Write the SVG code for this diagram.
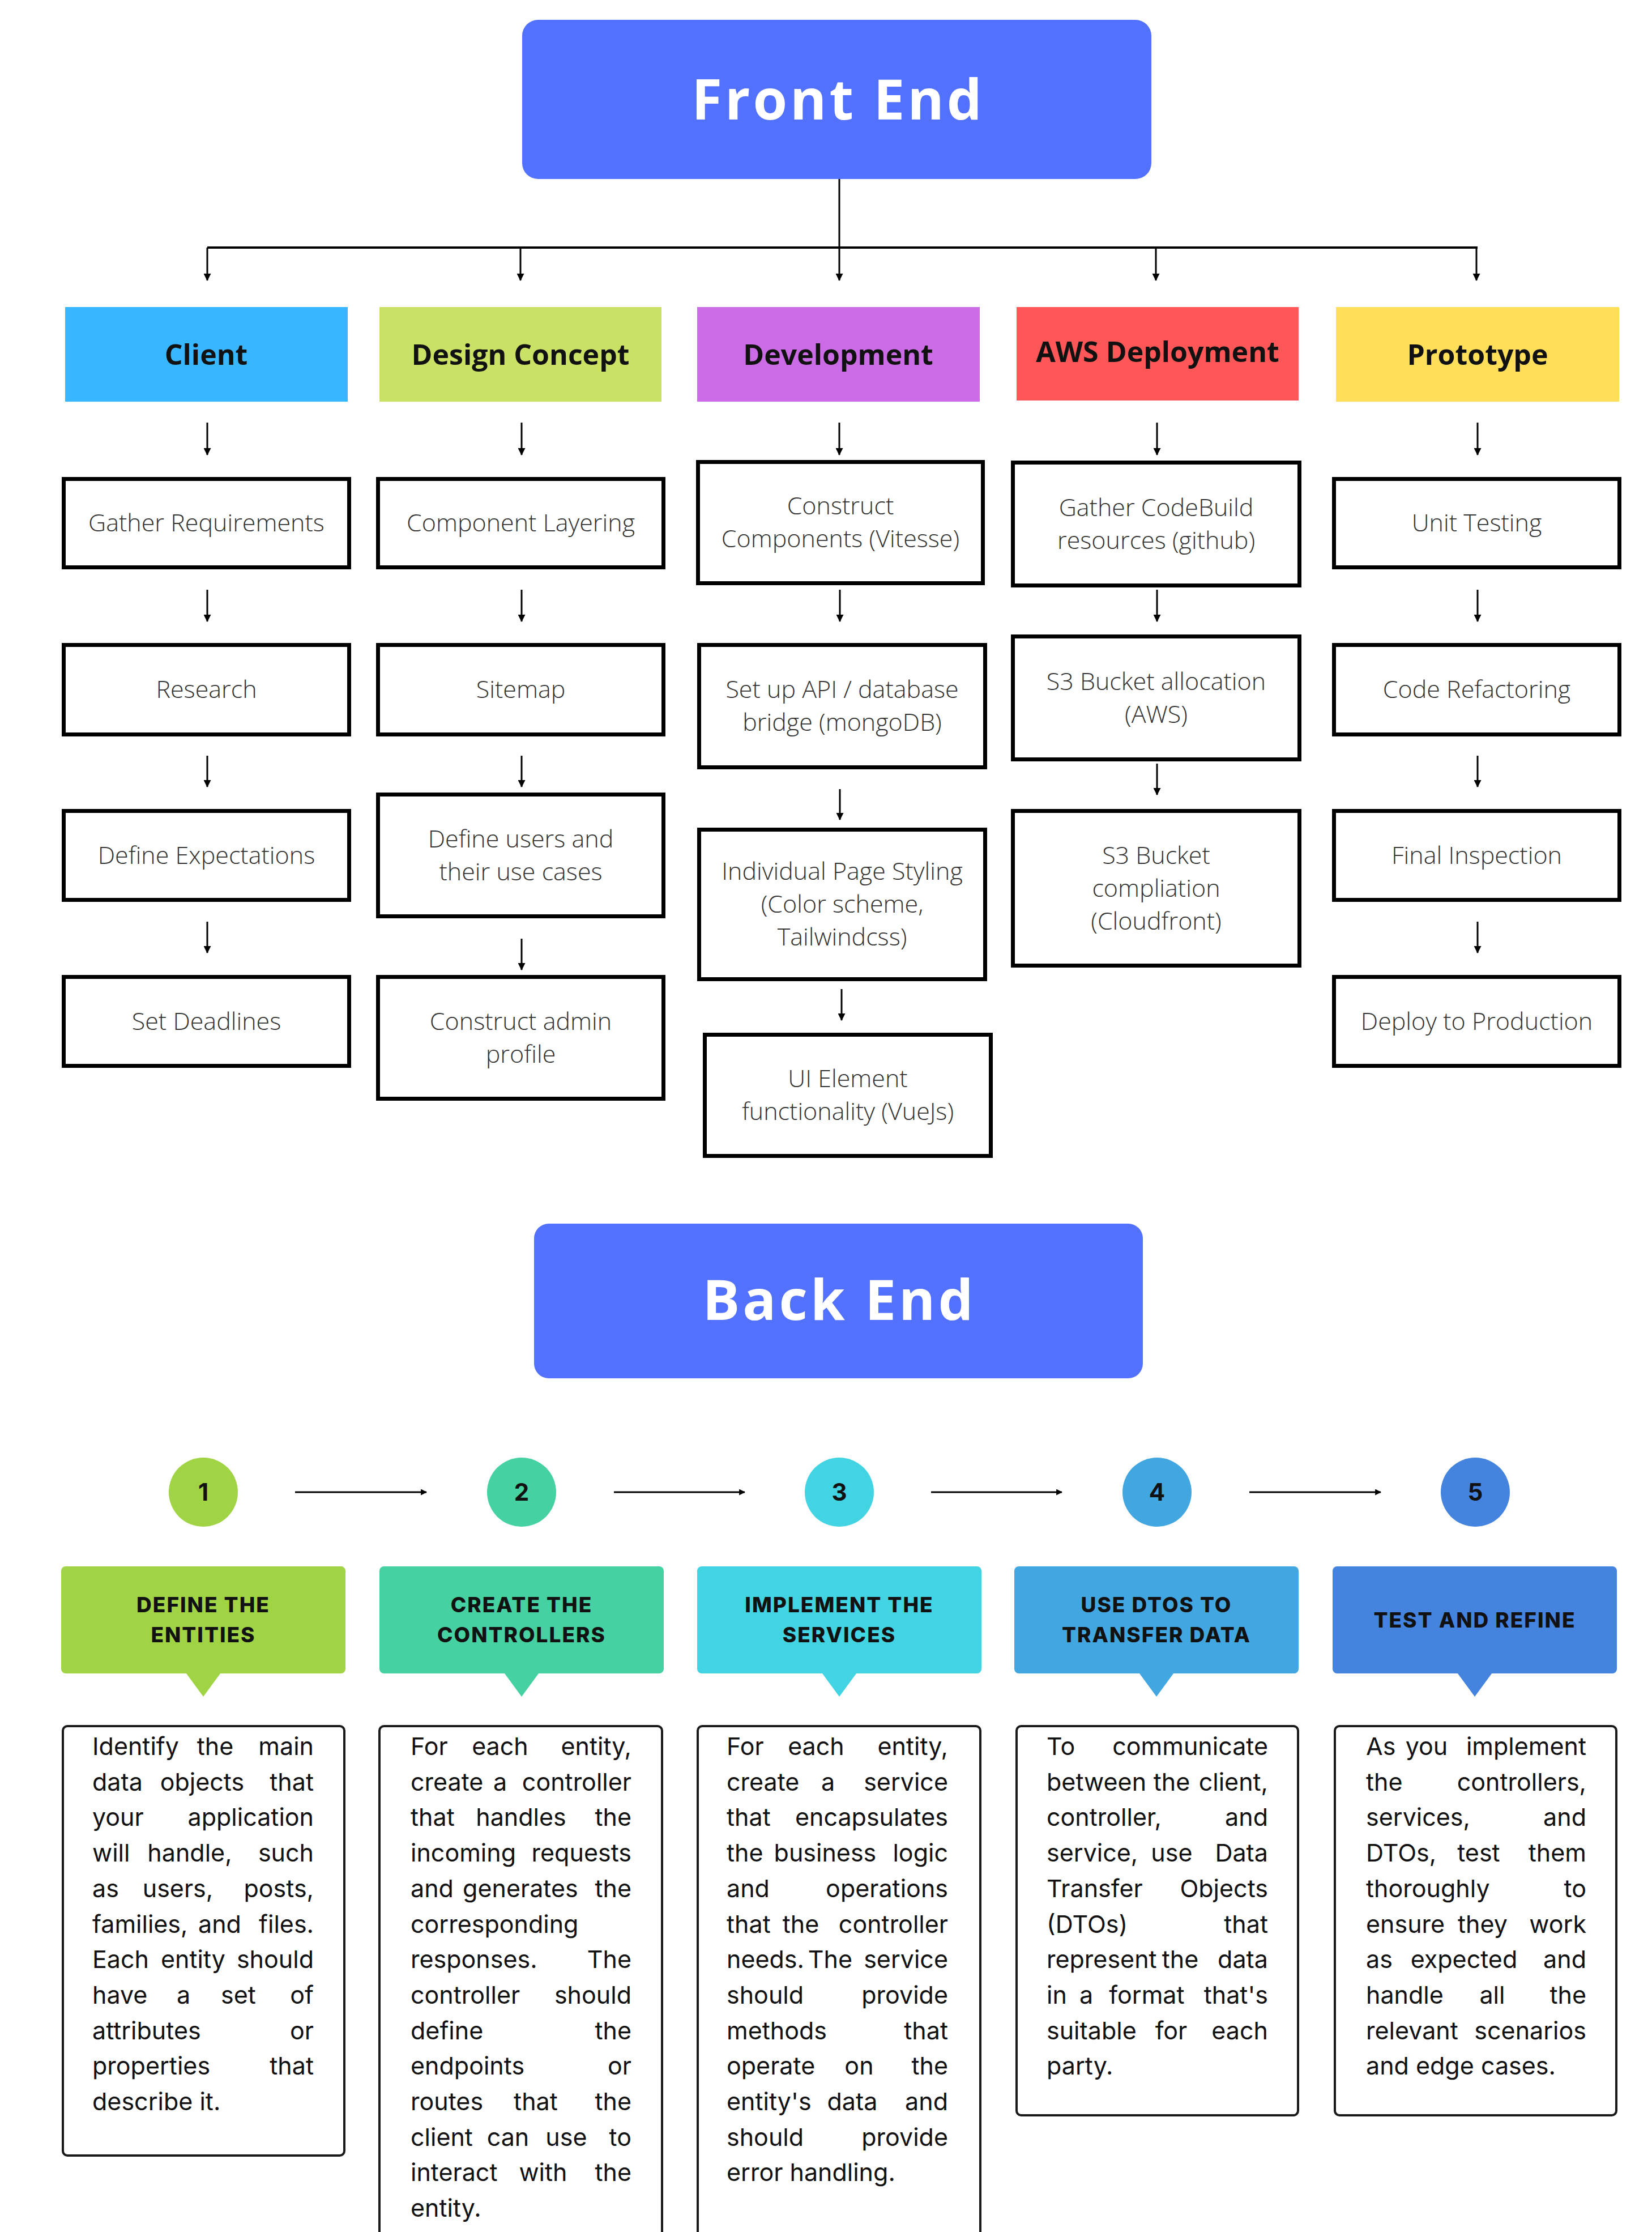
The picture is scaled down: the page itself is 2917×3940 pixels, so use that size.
<svg xmlns="http://www.w3.org/2000/svg" width="2917" height="3940" viewBox="0 0 2917 3940">
<style>
.title{font-family:"Open Sans","Noto Sans",sans-serif;font-weight:700;font-size:98px;letter-spacing:5px;fill:#fff;text-anchor:middle}
.cat{font-family:"Open Sans","Noto Sans",sans-serif;font-weight:700;font-size:50px;fill:#111;text-anchor:middle}
.step rect{fill:#fff;stroke:#000;stroke-width:7}
.step text{font-family:"Open Sans","Noto Sans",sans-serif;font-weight:300;font-size:43px;fill:#333;text-anchor:middle}
.num{font-family:Inter,"Liberation Sans",sans-serif;font-weight:700;font-size:42px;fill:#111;text-anchor:middle}
.hdr{font-family:Inter,"Liberation Sans",sans-serif;font-weight:800;font-size:37px;letter-spacing:2px;fill:#111;text-anchor:middle}
.desc rect{fill:#fff;stroke:#1a1a1a;stroke-width:4}
.desc text{font-family:Inter,"Liberation Sans",sans-serif;font-weight:400;font-size:43px;fill:#111}
.m{text-anchor:middle}
.e{text-anchor:end}
.conn line{stroke:#000;stroke-width:3}
</style>
<defs>
<marker id="ah" viewBox="0 0 12 12" refX="11" refY="6" markerWidth="13" markerHeight="13" markerUnits="userSpaceOnUse" orient="auto"><path d="M0,0 L12,6 L0,12 z" fill="#000"/></marker>
<marker id="ah2" viewBox="0 0 10 10" refX="9" refY="5" markerWidth="11" markerHeight="11" markerUnits="userSpaceOnUse" orient="auto"><path d="M0,0 L10,5 L0,10 z" fill="#000"/></marker>
</defs>
<rect width="2917" height="3940" fill="#fff"/>

<!-- Front End -->
<g id="front-end">
<rect x="922" y="35" width="1111" height="281" rx="28" fill="#5271FF"/>
<text class="title" x="1480" y="211">Front End</text>
</g>

<!-- categories -->
<g id="cat-client"><rect x="115" y="542" width="499" height="167" fill="#38B6FF"/><text class="cat" x="364" y="644">Client</text></g>
<g id="cat-design"><rect x="670" y="542" width="498" height="167" fill="#C9E265"/><text class="cat" x="919" y="644">Design Concept</text></g>
<g id="cat-dev"><rect x="1231" y="542" width="499" height="167" fill="#CB6CE6"/><text class="cat" x="1480" y="644">Development</text></g>
<g id="cat-aws"><rect x="1795" y="542" width="498" height="165" fill="#FF5757"/><text class="cat" x="2044" y="639">AWS Deployment</text></g>
<g id="cat-proto"><rect x="2359" y="542" width="500" height="167" fill="#FFDE59"/><text class="cat" x="2609" y="644">Prototype</text></g>

<!-- Client column -->
<g id="n-gather" class="step"><rect x="112.5" y="845.5" width="504" height="156"/><text x="364.5" y="938">Gather Requirements</text></g>
<g id="n-research" class="step"><rect x="112.5" y="1138.5" width="504" height="158"/><text x="364.5" y="1232">Research</text></g>
<g id="n-expect" class="step"><rect x="112.5" y="1431.5" width="504" height="157"/><text x="364.5" y="1525">Define Expectations</text></g>
<g id="n-deadlines" class="step"><rect x="112.5" y="1724.5" width="504" height="157"/><text x="364.5" y="1818">Set Deadlines</text></g>

<!-- Design column -->
<g id="n-layering" class="step"><rect x="667.5" y="845.5" width="504" height="156"/><text x="919.5" y="938">Component Layering</text></g>
<g id="n-sitemap" class="step"><rect x="667.5" y="1138.5" width="504" height="158"/><text x="919.5" y="1232">Sitemap</text></g>
<g id="n-users" class="step"><rect x="667.5" y="1402.5" width="504" height="215"/><text x="919.5" y="1496">Define users and</text><text x="919.5" y="1554">their use cases</text></g>
<g id="n-admin" class="step"><rect x="667.5" y="1724.5" width="504" height="215"/><text x="919.5" y="1818">Construct admin</text><text x="919.5" y="1876">profile</text></g>

<!-- Development column -->
<g id="n-construct" class="step"><rect x="1232.5" y="815.5" width="503" height="214"/><text x="1484" y="908">Construct</text><text x="1484" y="966">Components (Vitesse)</text></g>
<g id="n-api" class="step"><rect x="1234.5" y="1138.5" width="505" height="216"/><text x="1487" y="1232">Set up API / database</text><text x="1487" y="1290">bridge (mongoDB)</text></g>
<g id="n-styling" class="step"><rect x="1234.5" y="1464.5" width="505" height="264"/><text x="1487" y="1553">Individual Page Styling</text><text x="1487" y="1611">(Color scheme,</text><text x="1487" y="1669">Tailwindcss)</text></g>
<g id="n-ui" class="step"><rect x="1244.5" y="1826.5" width="505" height="214"/><text x="1497" y="1919">UI Element</text><text x="1497" y="1977">functionality (VueJs)</text></g>

<!-- AWS column -->
<g id="n-codebuild" class="step"><rect x="1788.5" y="816.5" width="506" height="217"/><text x="2041.5" y="911">Gather CodeBuild</text><text x="2041.5" y="969">resources (github)</text></g>
<g id="n-s3alloc" class="step"><rect x="1788.5" y="1123.5" width="506" height="217"/><text x="2041.5" y="1218">S3 Bucket allocation</text><text x="2041.5" y="1276">(AWS)</text></g>
<g id="n-s3comp" class="step"><rect x="1788.5" y="1431.5" width="506" height="273"/><text x="2041.5" y="1525">S3 Bucket</text><text x="2041.5" y="1583">compliation</text><text x="2041.5" y="1641">(Cloudfront)</text></g>

<!-- Prototype column -->
<g id="n-unit" class="step"><rect x="2355.5" y="845.5" width="504" height="156"/><text x="2607.5" y="938">Unit Testing</text></g>
<g id="n-refactor" class="step"><rect x="2355.5" y="1138.5" width="504" height="158"/><text x="2607.5" y="1232">Code Refactoring</text></g>
<g id="n-inspect" class="step"><rect x="2355.5" y="1431.5" width="504" height="157"/><text x="2607.5" y="1525">Final Inspection</text></g>
<g id="n-deploy" class="step"><rect x="2355.5" y="1724.5" width="504" height="157"/><text x="2607.5" y="1818">Deploy to Production</text></g>

<!-- Back End -->
<g id="back-end">
<rect x="943" y="2160" width="1075" height="273" rx="26" fill="#5271FF"/>
<text class="title" x="1482" y="2330">Back End</text>
</g>

<!-- numbered steps -->
<g id="c1"><circle cx="359" cy="2634" r="61" fill="#A0D444"/><text class="num" x="359" y="2649">1</text></g>
<g id="c2"><circle cx="921" cy="2634" r="61" fill="#45D1A1"/><text class="num" x="921" y="2649">2</text></g>
<g id="c3"><circle cx="1482" cy="2634" r="61" fill="#42D4E2"/><text class="num" x="1482" y="2649">3</text></g>
<g id="c4"><circle cx="2043" cy="2634" r="61" fill="#42A7E0"/><text class="num" x="2043" y="2649">4</text></g>
<g id="c5"><circle cx="2605" cy="2634" r="61" fill="#4483DE"/><text class="num" x="2605" y="2649">5</text></g>

<!-- headers -->
<g id="h1"><rect x="108" y="2765" width="502" height="189" rx="8" fill="#A0D444"/><path d="M326,2950 L392,2950 L359,2995 z" fill="#A0D444"/><text class="hdr" x="359" y="2846">DEFINE THE</text><text class="hdr" x="359" y="2899">ENTITIES</text></g>
<g id="h2"><rect x="670" y="2765" width="502" height="189" rx="8" fill="#45D1A1"/><path d="M888,2950 L954,2950 L921,2995 z" fill="#45D1A1"/><text class="hdr" x="921" y="2846">CREATE THE</text><text class="hdr" x="921" y="2899">CONTROLLERS</text></g>
<g id="h3"><rect x="1231" y="2765" width="502" height="189" rx="8" fill="#42D4E2"/><path d="M1449,2950 L1515,2950 L1482,2995 z" fill="#42D4E2"/><text class="hdr" x="1482" y="2846">IMPLEMENT THE</text><text class="hdr" x="1482" y="2899">SERVICES</text></g>
<g id="h4"><rect x="1791" y="2765" width="502" height="189" rx="8" fill="#42A7E0"/><path d="M2009,2950 L2075,2950 L2042,2995 z" fill="#42A7E0"/><text class="hdr" x="2042" y="2846">USE DTOS TO</text><text class="hdr" x="2042" y="2899">TRANSFER DATA</text></g>
<g id="h5"><rect x="2353" y="2765" width="502" height="189" rx="8" fill="#4483DE"/><path d="M2571,2950 L2637,2950 L2604,2995 z" fill="#4483DE"/><text class="hdr" x="2604" y="2873">TEST AND REFINE</text></g>

<!-- descriptions -->
<g id="d1" class="desc">
<rect x="111" y="3047" width="497" height="758" rx="8"/>
<text y="3098"><tspan x="163">Identify</tspan> <tspan x="386" class="m">the</tspan> <tspan x="554" class="e">main</tspan></text>
<text y="3161"><tspan x="163">data</tspan> <tspan x="363" class="m">objects</tspan> <tspan x="554" class="e">that</tspan></text>
<text y="3223"><tspan x="163">your</tspan> <tspan x="554" class="e">application</tspan></text>
<text y="3286"><tspan x="163">will</tspan> <tspan x="341" class="m">handle,</tspan> <tspan x="554" class="e">such</tspan></text>
<text y="3349"><tspan x="163">as</tspan> <tspan x="320" class="m">users,</tspan> <tspan x="554" class="e">posts,</tspan></text>
<text y="3412"><tspan x="163">families,</tspan> <tspan x="394" class="m">and</tspan> <tspan x="554" class="e">files.</tspan></text>
<text y="3474"><tspan x="163">Each</tspan> <tspan x="347" class="m">entity</tspan> <tspan x="554" class="e">should</tspan></text>
<text y="3537"><tspan x="163">have</tspan> <tspan x="330" class="m">a</tspan> <tspan x="427" class="m">set</tspan> <tspan x="554" class="e">of</tspan></text>
<text y="3600"><tspan x="163">attributes</tspan> <tspan x="554" class="e">or</tspan></text>
<text y="3662"><tspan x="163">properties</tspan> <tspan x="554" class="e">that</tspan></text>
<text y="3725" x="163">describe it.</text>
</g>
<g id="d2" class="desc">
<rect x="670" y="3047" width="499" height="920" rx="8"/>
<text y="3098"><tspan x="725">For</tspan> <tspan x="889" class="m">each</tspan> <tspan x="1115" class="e">entity,</tspan></text>
<text y="3161"><tspan x="725">create</tspan> <tspan x="889" class="m">a</tspan> <tspan x="1115" class="e">controller</tspan></text>
<text y="3223"><tspan x="725">that</tspan> <tspan x="926" class="m">handles</tspan> <tspan x="1115" class="e">the</tspan></text>
<text y="3286"><tspan x="725">incoming</tspan> <tspan x="1115" class="e">requests</tspan></text>
<text y="3349"><tspan x="725">and</tspan> <tspan x="925" class="m">generates</tspan> <tspan x="1115" class="e">the</tspan></text>
<text y="3412" x="725">corresponding</text>
<text y="3474"><tspan x="725">responses.</tspan> <tspan x="1115" class="e">The</tspan></text>
<text y="3537"><tspan x="725">controller</tspan> <tspan x="1115" class="e">should</tspan></text>
<text y="3600"><tspan x="725">define</tspan> <tspan x="1115" class="e">the</tspan></text>
<text y="3662"><tspan x="725">endpoints</tspan> <tspan x="1115" class="e">or</tspan></text>
<text y="3725"><tspan x="725">routes</tspan> <tspan x="952" class="m">that</tspan> <tspan x="1115" class="e">the</tspan></text>
<text y="3788"><tspan x="725">client</tspan> <tspan x="903" class="m">can</tspan> <tspan x="1006" class="m">use</tspan> <tspan x="1115" class="e">to</tspan></text>
<text y="3850"><tspan x="725">interact</tspan> <tspan x="965" class="m">with</tspan> <tspan x="1115" class="e">the</tspan></text>
<text y="3913" x="725">entity.</text>
</g>
<g id="d3" class="desc">
<rect x="1232" y="3047" width="499" height="920" rx="8"/>
<text y="3098"><tspan x="1283">For</tspan> <tspan x="1447" class="m">each</tspan> <tspan x="1674" class="e">entity,</tspan></text>
<text y="3161"><tspan x="1283">create</tspan> <tspan x="1468" class="m">a</tspan> <tspan x="1674" class="e">service</tspan></text>
<text y="3223"><tspan x="1283">that</tspan> <tspan x="1674" class="e">encapsulates</tspan></text>
<text y="3286"><tspan x="1283">the</tspan> <tspan x="1463" class="m">business</tspan> <tspan x="1674" class="e">logic</tspan></text>
<text y="3349"><tspan x="1283">and</tspan> <tspan x="1674" class="e">operations</tspan></text>
<text y="3412"><tspan x="1283">that</tspan> <tspan x="1420" class="m">the</tspan> <tspan x="1674" class="e">controller</tspan></text>
<text y="3474"><tspan x="1283">needs.</tspan> <tspan x="1472" class="m">The</tspan> <tspan x="1674" class="e">service</tspan></text>
<text y="3537"><tspan x="1283">should</tspan> <tspan x="1674" class="e">provide</tspan></text>
<text y="3600"><tspan x="1283">methods</tspan> <tspan x="1674" class="e">that</tspan></text>
<text y="3662"><tspan x="1283">operate</tspan> <tspan x="1523" class="m">on</tspan> <tspan x="1674" class="e">the</tspan></text>
<text y="3725"><tspan x="1283">entity's</tspan> <tspan x="1511" class="m">data</tspan> <tspan x="1674" class="e">and</tspan></text>
<text y="3788"><tspan x="1283">should</tspan> <tspan x="1674" class="e">provide</tspan></text>
<text y="3850" x="1283">error handling.</text>
</g>
<g id="d4" class="desc">
<rect x="1795" y="3047" width="497" height="687" rx="8"/>
<text y="3098"><tspan x="1848">To</tspan> <tspan x="2239" class="e">communicate</tspan></text>
<text y="3161"><tspan x="1848">between</tspan> <tspan x="2075" class="m">the</tspan> <tspan x="2239" class="e">client,</tspan></text>
<text y="3223"><tspan x="1848">controller,</tspan> <tspan x="2239" class="e">and</tspan></text>
<text y="3286"><tspan x="1848">service,</tspan> <tspan x="2075" class="m">use</tspan> <tspan x="2239" class="e">Data</tspan></text>
<text y="3349"><tspan x="1848">Transfer</tspan> <tspan x="2239" class="e">Objects</tspan></text>
<text y="3412"><tspan x="1848">(DTOs)</tspan> <tspan x="2239" class="e">that</tspan></text>
<text y="3474"><tspan x="1848">represent</tspan> <tspan x="2090" class="m">the</tspan> <tspan x="2239" class="e">data</tspan></text>
<text y="3537"><tspan x="1848">in</tspan> <tspan x="1924" class="m">a</tspan> <tspan x="2031" class="m">format</tspan> <tspan x="2239" class="e">that's</tspan></text>
<text y="3600"><tspan x="1848">suitable</tspan> <tspan x="2074" class="m">for</tspan> <tspan x="2239" class="e">each</tspan></text>
<text y="3662" x="1848">party.</text>
</g>
<g id="d5" class="desc">
<rect x="2357" y="3047" width="497" height="687" rx="8"/>
<text y="3098"><tspan x="2412">As</tspan> <tspan x="2525" class="m">you</tspan> <tspan x="2801" class="e">implement</tspan></text>
<text y="3161"><tspan x="2412">the</tspan> <tspan x="2801" class="e">controllers,</tspan></text>
<text y="3223"><tspan x="2412">services,</tspan> <tspan x="2801" class="e">and</tspan></text>
<text y="3286"><tspan x="2412">DTOs,</tspan> <tspan x="2617" class="m">test</tspan> <tspan x="2801" class="e">them</tspan></text>
<text y="3349"><tspan x="2412">thoroughly</tspan> <tspan x="2801" class="e">to</tspan></text>
<text y="3412"><tspan x="2412">ensure</tspan> <tspan x="2624" class="m">they</tspan> <tspan x="2801" class="e">work</tspan></text>
<text y="3474"><tspan x="2412">as</tspan> <tspan x="2591" class="m">expected</tspan> <tspan x="2801" class="e">and</tspan></text>
<text y="3537"><tspan x="2412">handle</tspan> <tspan x="2641" class="m">all</tspan> <tspan x="2801" class="e">the</tspan></text>
<text y="3600"><tspan x="2412">relevant</tspan> <tspan x="2801" class="e">scenarios</tspan></text>
<text y="3662" x="2412">and edge cases.</text>
</g>

<!-- connectors -->
<g id="connectors" class="conn">
<line x1="1482" y1="316" x2="1482" y2="495" marker-end="url(#ah)"/>
<line x1="366" y1="437" x2="2609" y2="437" style="stroke-width:4"/>
<line x1="366" y1="437" x2="366" y2="495" marker-end="url(#ah)"/>
<line x1="919" y1="437" x2="919" y2="495" marker-end="url(#ah)"/>
<line x1="2041" y1="437" x2="2041" y2="495" marker-end="url(#ah)"/>
<line x1="2607" y1="437" x2="2607" y2="495" marker-end="url(#ah)"/>

<line x1="366" y1="746" x2="366" y2="803" marker-end="url(#ah)"/>
<line x1="921" y1="746" x2="921" y2="803" marker-end="url(#ah)"/>
<line x1="1482" y1="746" x2="1482" y2="803" marker-end="url(#ah)"/>
<line x1="2043" y1="746" x2="2043" y2="803" marker-end="url(#ah)"/>
<line x1="2609" y1="746" x2="2609" y2="803" marker-end="url(#ah)"/>

<line x1="366" y1="1041" x2="366" y2="1097" marker-end="url(#ah)"/>
<line x1="366" y1="1334" x2="366" y2="1389" marker-end="url(#ah)"/>
<line x1="366" y1="1627" x2="366" y2="1682" marker-end="url(#ah)"/>

<line x1="921" y1="1041" x2="921" y2="1097" marker-end="url(#ah)"/>
<line x1="921" y1="1334" x2="921" y2="1389" marker-end="url(#ah)"/>
<line x1="921" y1="1657" x2="921" y2="1712" marker-end="url(#ah)"/>

<line x1="1483" y1="1041" x2="1483" y2="1097" marker-end="url(#ah)"/>
<line x1="1483" y1="1393" x2="1483" y2="1447" marker-end="url(#ah)"/>
<line x1="1486" y1="1746" x2="1486" y2="1801" marker-end="url(#ah)"/>

<line x1="2043" y1="1041" x2="2043" y2="1097" marker-end="url(#ah)"/>
<line x1="2043" y1="1348" x2="2043" y2="1403" marker-end="url(#ah)"/>

<line x1="2609" y1="1041" x2="2609" y2="1097" marker-end="url(#ah)"/>
<line x1="2609" y1="1334" x2="2609" y2="1389" marker-end="url(#ah)"/>
<line x1="2609" y1="1627" x2="2609" y2="1682" marker-end="url(#ah)"/>

<line x1="521" y1="2634" x2="753" y2="2634" marker-end="url(#ah2)"/>
<line x1="1084" y1="2634" x2="1315" y2="2634" marker-end="url(#ah2)"/>
<line x1="1644" y1="2634" x2="1875" y2="2634" marker-end="url(#ah2)"/>
<line x1="2206" y1="2634" x2="2438" y2="2634" marker-end="url(#ah2)"/>
</g>
</svg>
